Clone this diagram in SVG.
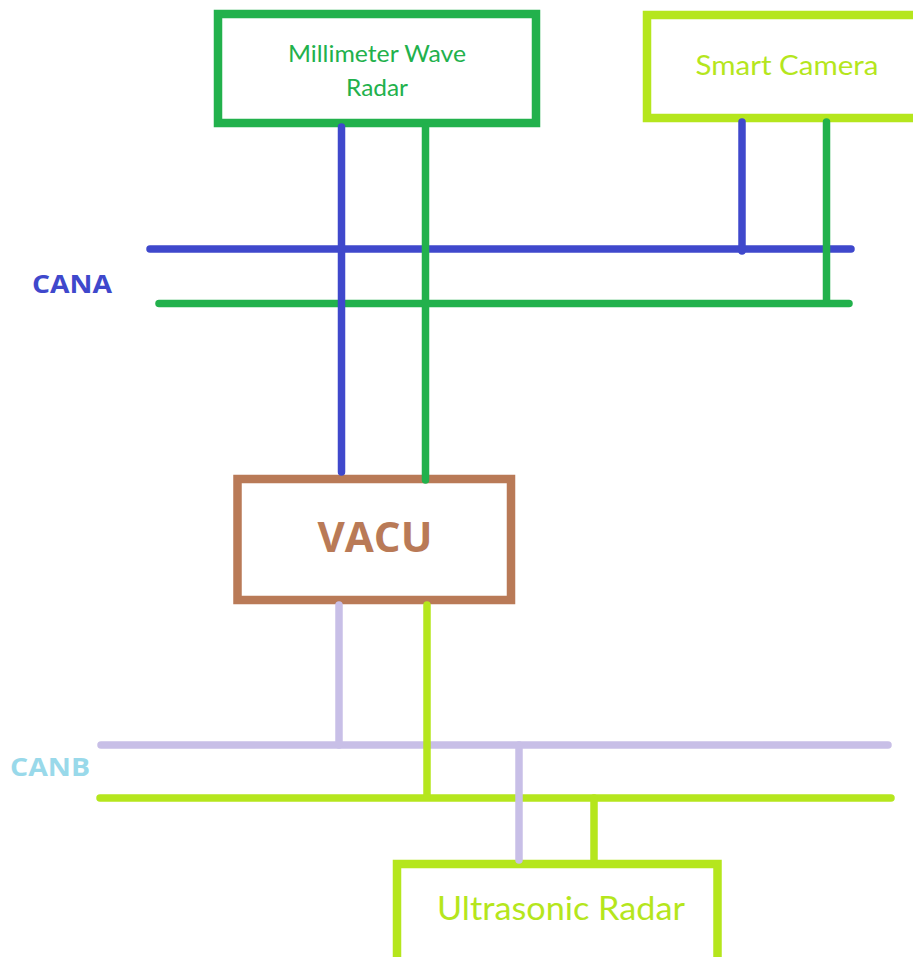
<svg xmlns="http://www.w3.org/2000/svg" width="913" height="957" viewBox="0 0 913 957">
<style>
.box{fill:#fff;stroke-width:8.5}
.ln{fill:none;stroke-width:7.5;stroke-linecap:round}
.t{font-family:Lato,"Open Sans",sans-serif;text-anchor:middle}
.b{font-family:"Open Sans",Lato,sans-serif;font-weight:bold;text-anchor:middle}
</style>
<rect width="913" height="957" fill="#fff"/>
<g id="mmw">
<rect class="box" x="218" y="14" width="318" height="109" stroke="#22b14c"/>
<text class="t" x="377" y="62" font-size="24" fill="#22b14c" textLength="178" lengthAdjust="spacingAndGlyphs">Millimeter Wave</text>
<text class="t" x="377" y="96" font-size="24" fill="#22b14c" textLength="62" lengthAdjust="spacingAndGlyphs">Radar</text>
</g>
<g id="camera">
<rect class="box" x="647" y="15" width="300" height="103" stroke="#b5e61d"/>
<text class="t" x="787" y="75" font-size="26" fill="#b5e61d" textLength="183" lengthAdjust="spacingAndGlyphs">Smart Camera</text>
</g>
<g id="vacu">
<rect class="box" x="237.5" y="479" width="273.5" height="121" stroke="#b97a57"/>
<text class="b" x="375" y="552" font-size="41" fill="#b97a57" textLength="115" lengthAdjust="spacingAndGlyphs">VACU</text>
</g>
<g id="ultrasonic">
<rect class="box" x="397" y="864" width="320.5" height="110" stroke="#b5e61d"/>
<text class="t" x="561" y="920" font-size="32" fill="#b5e61d" textLength="248" lengthAdjust="spacingAndGlyphs">Ultrasonic Radar</text>
</g>
<g id="labels">
<text class="b" x="72" y="293" font-size="25" fill="#3f48cc" textLength="80" lengthAdjust="spacingAndGlyphs">CANA</text>
<text class="b" x="50" y="776" font-size="25" fill="#99d9ea" textLength="80" lengthAdjust="spacingAndGlyphs">CANB</text>
</g>
<g id="connectors">
<line class="ln" x1="150" y1="249" x2="851" y2="249" stroke="#3f48cc"/>
<line class="ln" x1="159" y1="303.5" x2="849" y2="303.5" stroke="#22b14c"/>
<line class="ln" x1="101" y1="745" x2="888" y2="745" stroke="#c8bfe7"/>
<line class="ln" x1="100" y1="798" x2="891" y2="798" stroke="#b5e61d"/>
<line class="ln" x1="341.5" y1="127" x2="341.5" y2="472" stroke="#3f48cc" stroke-linecap="butt"/>
<line class="ln" x1="425.5" y1="127" x2="425.5" y2="480" stroke="#22b14c"/>
<line class="ln" x1="742" y1="122" x2="742" y2="251" stroke="#3f48cc"/>
<line class="ln" x1="826.5" y1="122" x2="826.5" y2="300" stroke="#22b14c"/>
<line class="ln" x1="339" y1="605" x2="339" y2="745" stroke="#c8bfe7"/>
<line class="ln" x1="427" y1="605" x2="427" y2="797" stroke="#b5e61d"/>
<line class="ln" x1="519" y1="745" x2="519" y2="860" stroke="#c8bfe7" stroke-linecap="butt"/>
<line class="ln" x1="594" y1="798" x2="594" y2="860" stroke="#b5e61d" stroke-linecap="butt"/>
</g>
</svg>
